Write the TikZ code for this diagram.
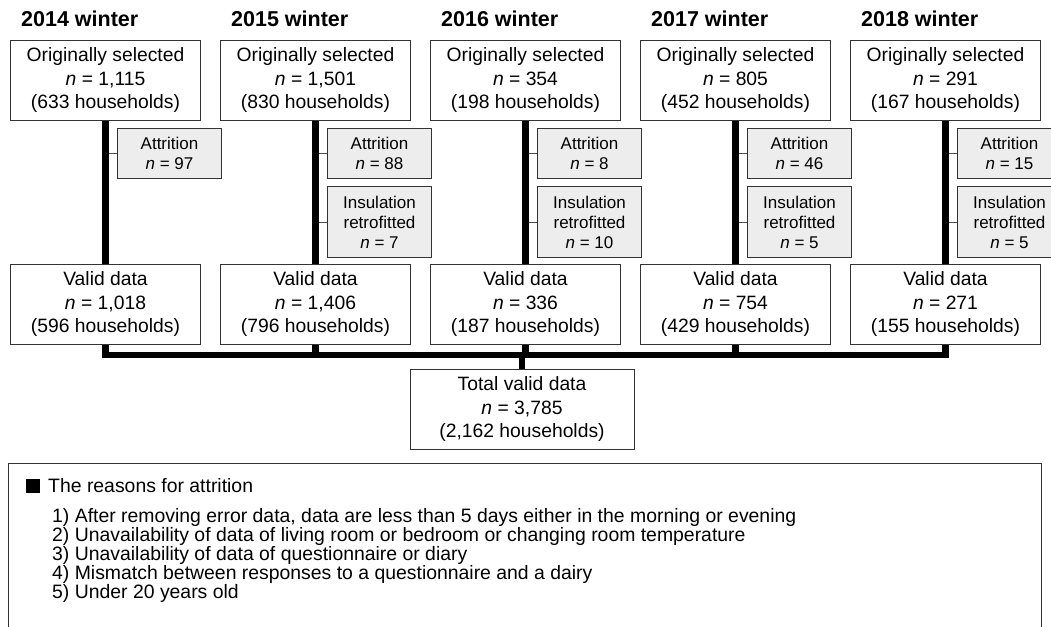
\documentclass[tikz,border=0pt]{standalone}
\usepackage{fontspec}
\setmainfont{Liberation Sans}
\usetikzlibrary{positioning}
\tikzset{
  box/.style={draw=black!80, line width=1pt, align=center, inner sep=0pt,
    minimum width=190pt, minimum height=80pt, font=\fontsize{19.3}{23.5}\selectfont},
  sidebox/.style={draw=black!80, fill=black!7, line width=1pt, align=center, inner sep=0pt,
    minimum width=104pt, anchor=north west, font=\fontsize{17}{20}\selectfont},
  trunk/.style={line width=6.5pt},
  twig/.style={line width=1pt, black!70},
  year/.style={font=\fontsize{21.5}{24}\selectfont\bfseries, anchor=base west, inner sep=0pt},
  note/.style={font=\fontsize{19.4}{19}\selectfont, anchor=base west, inner sep=0pt}
}
\begin{document}
\begin{tikzpicture}[x=1pt, y=-1pt]
        \useasboundingbox (0,0) rectangle (1051,626);

        % Year titles
        \node[year] (y1) at (21,27) {2014 winter};
        \node[year] (y2) at (231,27) {2015 winter};
        \node[year] (y3) at (441,27) {2016 winter};
        \node[year] (y4) at (651,27) {2017 winter};
        \node[year] (y5) at (861,27) {2018 winter};

        % Originally selected
        \node[box, anchor=north west] (sel1) at (10,40) {Originally selected\\\textit{n} = 1,115\\(633 households)};
        \node[box, anchor=north west] (sel2) at (220,40) {Originally selected\\\textit{n} = 1,501\\(830 households)};
        \node[box, anchor=north west] (sel3) at (430,40) {Originally selected\\\textit{n} = 354\\(198 households)};
        \node[box, anchor=north west] (sel4) at (640,40) {Originally selected\\\textit{n} = 805\\(452 households)};
        \node[box, anchor=north west] (sel5) at (850,40) {Originally selected\\\textit{n} = 291\\(167 households)};

        % Valid data
        \node[box, anchor=north west] (val1) at (10,264) {Valid data\\\textit{n} = 1,018\\(596 households)};
        \node[box, anchor=north west] (val2) at (220,264) {Valid data\\\textit{n} = 1,406\\(796 households)};
        \node[box, anchor=north west] (val3) at (430,264) {Valid data\\\textit{n} = 336\\(187 households)};
        \node[box, anchor=north west] (val4) at (640,264) {Valid data\\\textit{n} = 754\\(429 households)};
        \node[box, anchor=north west] (val5) at (850,264) {Valid data\\\textit{n} = 271\\(155 households)};

        % Excluded
        \node[sidebox, minimum height=50pt] (att1) at (117,128) {Attrition\\\textit{n} = 97};
        \node[sidebox, minimum height=50pt] (att2) at (327,128) {Attrition\\\textit{n} = 88};
        \node[sidebox, minimum height=50pt] (att3) at (537,128) {Attrition\\\textit{n} = 8};
        \node[sidebox, minimum height=50pt] (att4) at (747,128) {Attrition\\\textit{n} = 46};
        \node[sidebox, minimum height=50pt] (att5) at (957,128) {Attrition\\\textit{n} = 15};
        \node[sidebox, minimum height=71pt] (ins2) at (327,186) {Insulation\\retrofitted\\\textit{n} = 7};
        \node[sidebox, minimum height=71pt] (ins3) at (537,186) {Insulation\\retrofitted\\\textit{n} = 10};
        \node[sidebox, minimum height=71pt] (ins4) at (747,186) {Insulation\\retrofitted\\\textit{n} = 5};
        \node[sidebox, minimum height=71pt] (ins5) at (957,186) {Insulation\\retrofitted\\\textit{n} = 5};

        % Total
        \node[box, minimum width=224pt] (total) at (522,409) {Total valid data\\\textit{n} = 3,785\\(2,162 households)};

        % Side branches
        \draw[twig] (att1.west) -- (att1.west -| sel1.south);
        \draw[twig] (att2.west) -- (att2.west -| sel2.south);
        \draw[twig] (att3.west) -- (att3.west -| sel3.south);
        \draw[twig] (att4.west) -- (att4.west -| sel4.south);
        \draw[twig] (att5.west) -- (att5.west -| sel5.south);
        \draw[twig] (ins2.west) -- (ins2.west -| sel2.south);
        \draw[twig] (ins3.west) -- (ins3.west -| sel3.south);
        \draw[twig] (ins4.west) -- (ins4.west -| sel4.south);
        \draw[twig] (ins5.west) -- (ins5.west -| sel5.south);

        % Trunks
        \draw[trunk] (sel1.south) -- (val1.north);
        \draw[trunk] (sel2.south) -- (val2.north);
        \draw[trunk] (sel3.south) -- (val3.north);
        \draw[trunk] (sel4.south) -- (val4.north);
        \draw[trunk] (sel5.south) -- (val5.north);

        % Merge into total
        \coordinate (bus) at (0,355);
        \draw[trunk] (val1.south) -- (val1.south |- bus) -- (val5.south |- bus) -- (val5.south);
        \draw[trunk] (val2.south) -- (val2.south |- bus);
        \draw[trunk] (val3.south) -- (val3.south |- bus);
        \draw[trunk] (val4.south) -- (val4.south |- bus);
        \draw[trunk] (total.north) -- (total.north |- bus);

        % Reasons
        \draw[line width=1pt, black!80] (8,463) rectangle (1041,660);
        \fill (26,479) rectangle (40,493);
        \node[note] (head) at (48,492) {The reasons for attrition};
        \node[note] (r1) at (52,522) {1) After removing error data, data are less than 5 days either in the morning or evening};
        \node[note] (r2) at (52,541) {2) Unavailability of data of living room or bedroom or changing room temperature};
        \node[note] (r3) at (52,560) {3) Unavailability of data of questionnaire or diary};
        \node[note] (r4) at (52,579) {4) Mismatch between responses to a questionnaire and a dairy};
        \node[note] (r5) at (52,598) {5) Under 20 years old};
    \end{tikzpicture}
\end{document}
